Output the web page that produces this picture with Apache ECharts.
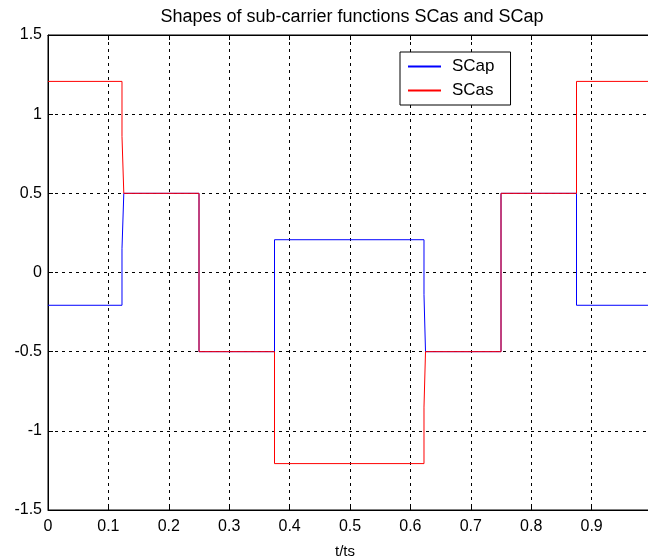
<!DOCTYPE html>
<html>
<head>
<meta charset="utf-8">
<script src="https://cdn.jsdelivr.net/npm/echarts@6/dist/echarts.min.js"></script>
<style>
html,body{margin:0;padding:0;overflow:hidden;background:#fff;}
#main{width:652px;height:559px;}
</style>
</head>
<body>
<div id="main"></div>
<script>
// t/ts breakpoints and levels
var scapData = [[0,-0.207],[0.1225,-0.207],[0.1225,0.15],[0.1255,0.15],[0.1255,0.5],[0.25,0.5],[0.25,-0.5],
    [0.375,-0.5],[0.375,0.207],[0.6225,0.207],[0.6225,-0.14],[0.625,-0.14],[0.625,-0.5],[0.75,-0.5],[0.75,0.5],
    [0.875,0.5],[0.875,-0.207],[1,-0.207]];
var scasData = [[0,1.207],[0.1225,1.207],[0.1225,0.86],[0.1255,0.86],[0.1255,0.5],[0.25,0.5],[0.25,-0.5],
    [0.375,-0.5],[0.375,-1.207],[0.6225,-1.207],[0.6225,-0.85],[0.625,-0.85],[0.625,-0.5],[0.75,-0.5],[0.75,0.5],
    [0.875,0.5],[0.875,1.207],[1,1.207]];
var seriesNames = ['SCap','SCas'];
var seriesColors = ['#0000ff','#ff0000'];

var myChart = echarts.init(document.getElementById('main'));
var font = 'Liberation Sans, Arial, sans-serif';
var gridLine = {show:true, lineStyle:{color:'#000', type:[3,4], width:1}};
var option = {
    animation:false,
    title:{text:'Shapes of sub-carrier functions SCas and SCap', left:347, top:3, textAlign:'center',
        textStyle:{fontFamily:font, fontSize:18, fontWeight:'normal', color:'#000'}},
    legend:{
        data:seriesNames, orient:'vertical', left:400, top:52,
        itemWidth:33, itemHeight:2, itemGap:7,
        padding:[6,16,6,8],
        borderColor:'#000', borderWidth:1, backgroundColor:'#fff',
        icon:'rect',
        textStyle:{fontFamily:font, fontSize:17, color:'#000', padding:[0,0,0,6]}
    },
    grid:{left:48, right:0, top:35, bottom:49, outerBoundsMode:'none',
        show:true, borderColor:'#000', borderWidth:1},
    xAxis:[{
        type:'value', min:0, max:1, interval:0.1,
        name:'t/ts', nameLocation:'middle', nameGap:34,
        nameTextStyle:{fontFamily:font, fontSize:15, color:'#000', padding:[0,10,0,0]},
        axisLine:{onZero:false, lineStyle:{color:'#000'}},
        axisTick:{inside:true, length:5, lineStyle:{color:'#000'}},
        axisLabel:{fontFamily:font, fontSize:16, color:'#000', margin:9,
            formatter:function(v){ return v >= 1 ? '' : String(+v.toFixed(1)); }},
        splitLine:gridLine
    },{
        type:'value', min:0, max:1, interval:0.1, position:'top',
        axisLine:{onZero:false, lineStyle:{color:'#000'}},
        axisTick:{inside:true, length:5, lineStyle:{color:'#000'}},
        axisLabel:{show:false}, splitLine:{show:false}
    }],
    yAxis:{
        type:'value', min:-1.5, max:1.5, interval:0.5,
        axisLine:{show:true, onZero:false, lineStyle:{color:'#000'}},
        axisTick:{show:true, inside:true, length:5, lineStyle:{color:'#000'}},
        axisLabel:{fontFamily:font, fontSize:16, color:'#000', margin:6},
        splitLine:gridLine
    },
    series:[{
        name:seriesNames[0], type:'line', data:scapData, symbol:'none',
        lineStyle:{color:seriesColors[0], width:1}, itemStyle:{color:seriesColors[0]}
    },{
        name:seriesNames[1], type:'line', data:scasData, symbol:'none',
        lineStyle:{color:seriesColors[1], width:1}, itemStyle:{color:seriesColors[1]}
    }]
};
myChart.setOption(option);
</script>
</body>
</html>
